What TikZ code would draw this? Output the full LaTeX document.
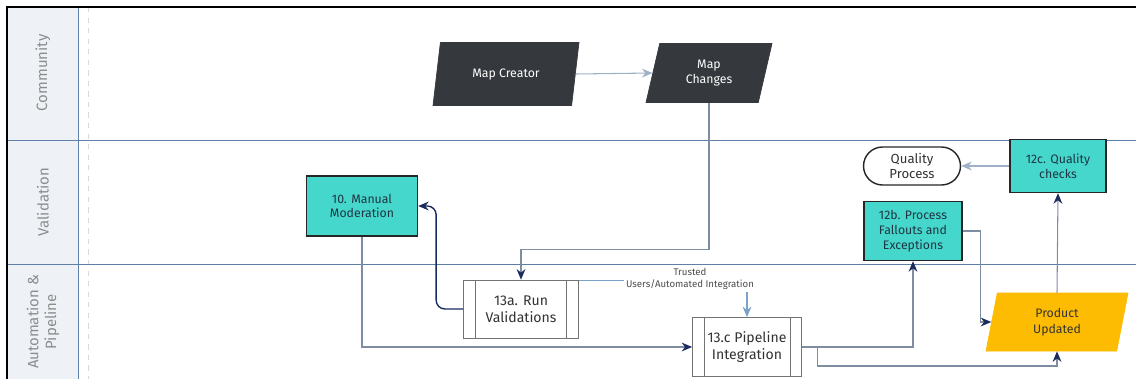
\documentclass[tikz,border=0pt]{standalone}
\usepackage{fontspec}
\setmainfont{Fira Sans}
\usetikzlibrary{arrows.meta,
                positioning,
                shapes.geometric}
\definecolor{tealnode}{HTML}{45D6CC}
\definecolor{darknode}{HTML}{35383D}
\definecolor{goldnode}{HTML}{FDBC02}
\definecolor{navyhead}{HTML}{1C2B5E}
\definecolor{linkgray}{HTML}{7F8DA3}
\definecolor{lightlink}{HTML}{9DB0C6}
\definecolor{trustlink}{HTML}{7BA3C9}
\definecolor{laneline}{HTML}{5F7EA8}
\definecolor{headerbg}{HTML}{EEF2F7}
\definecolor{tasktext}{HTML}{1F3543}
\tikzset{
       arr/.style = {-{Stealth[length=6pt,width=5pt,color=navyhead]}, draw=linkgray, semithick},   % <--- dark heads
   arrlite/.style = {-{Stealth[length=6pt,width=5pt]}, draw=lightlink, semithick},
      base/.style = {draw, align=center, inner sep=2pt}, % <---
      task/.style = {base, rectangle, fill=tealnode, draw=black!85, thick,
                     text=tasktext, font=\fontsize{7}{8.4}\selectfont},
   procbox/.style = {base, rectangle, fill=white, draw=black!55,
                     text=black!80, font=\fontsize{8}{9.6}\selectfont},
      iobox/.style = {base, trapezium, trapezium stretches body,
                     trapezium left angle=68, trapezium right angle=112,
                     fill=darknode, draw=darknode, text=white,
                     font=\fontsize{7}{9}\selectfont},
  terminal/.style = {base, rectangle, rounded corners=0.38cm, thick, fill=white,
                     draw=black!85, text=black!80, font=\fontsize{7.5}{8.9}\selectfont},
        }
\begin{document}
\begin{tikzpicture}[x=0.02cm,y=-0.02cm,
    lanetitle/.style={rotate=90,align=center,text=black!45,font=\fontsize{8.5}{10}\selectfont},
    trustlabel/.style={fill=white,inner sep=1pt,align=center,text=black!70,font=\fontsize{5.5}{7}\selectfont}]
\useasboundingbox (0,0) rectangle (1136,379);
 % lanes
 \fill[headerbg] (7,7) rectangle (78,379);
 \draw[black!15,dashed] (88,7) -- (88,379);
 \draw[laneline] (78,7) -- (78,379);
 \draw[laneline] (7,140) -- (1136,140);
 \draw[laneline] (7,264) -- (1136,264);
 \draw[black,line width=1.2pt] (7,379) -- (7,7) -- (1136,7);
 \node[lanetitle] (lcom) at (43,73) {Community};
 \node[lanetitle] (lval) at (43,202) {Validation};
 \node[lanetitle] (lauto) at (43,322) {Automation \&\\Pipeline};
 % nodes
 \node[iobox,minimum width=2.92cm,minimum height=1.26cm] (mapc) at (506,74) {Map Creator};
 \node[iobox,minimum width=2.52cm,minimum height=1.18cm] (mapch) at (709,73) {Map\\Changes};
 \node[task,minimum width=2.22cm,minimum height=1.2cm] (man) at (362,206) {10. Manual\\Moderation};
 \node[procbox,minimum width=2.3cm,minimum height=1.16cm] (runv) at (521,309) {13a. Run\\Validations};
 \node[procbox,minimum width=2.18cm,minimum height=1.18cm] (pipe) at (747,347) {13.c Pipeline\\Integration};
 \node[task,minimum width=1.96cm,minimum height=1.18cm] (fall) at (913,231) {12b. Process\\Fallouts and\\Exceptions};
 \node[task,minimum width=1.92cm,minimum height=1.06cm] (qchk) at (1058,166) {12c. Quality\\checks};
 \node[terminal,minimum width=1.94cm,minimum height=0.76cm] (qproc) at (912,166) {Quality\\Process};
 \node[iobox,trapezium left angle=72,trapezium right angle=108,fill=goldnode,draw=goldnode,
       text=black!80,minimum width=2.84cm,minimum height=1.16cm] (prod) at (1057,322) {Product\\Updated};
 \foreach \n in {runv,pipe}{
   \draw[black!55] ([xshift=0.24cm]\n.north west) -- ([xshift=0.24cm]\n.south west);
   \draw[black!55] ([xshift=-0.24cm]\n.north east) -- ([xshift=-0.24cm]\n.south east);
 }
 % connectors
 \draw[arrlite] (mapc.east) -- (mapch.west);
 \draw[arr] (mapch.south) -- ++(0,147) -| (runv.north);
 \draw[arr,draw=navyhead,thick,rounded corners=5pt] (runv.west) -- ++(-27,0) |- (man.east);
 \draw[arr] (man.south) |- (pipe.west);
 \draw[-{Stealth[length=6pt,width=5pt]},draw=trustlink,semithick] ([yshift=-0.02cm]runv.north east) -| (pipe.north);
 \node[trustlabel] (trust) at (690,279) {Trusted\\Users/Automated Integration};
 \draw[arr] (pipe.east) -| (fall.south);
 \draw[arr] ([xshift=0.32cm]pipe.east) -- ++(0,19) -| (prod.south);
 \draw[arr] (fall.east) -- ++(18,0) |- (prod.west);
 \draw[arr] (prod.north) -- (qchk.south);
 \draw[arrlite] (qchk.west) -- (qproc.east);
\end{tikzpicture}
\end{document}
